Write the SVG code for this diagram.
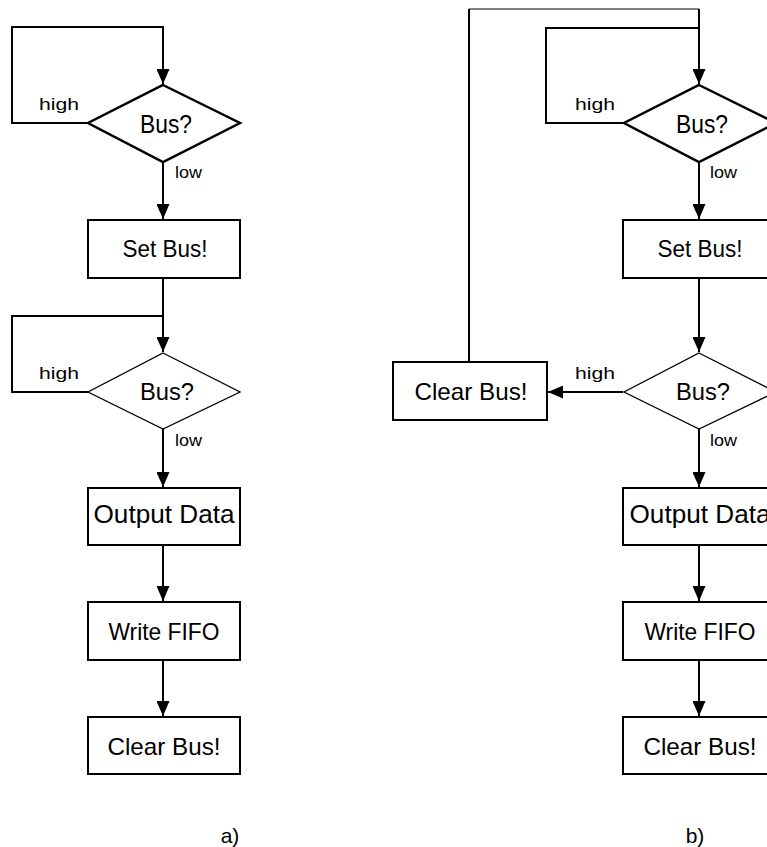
<svg xmlns="http://www.w3.org/2000/svg" width="767" height="847" viewBox="0 0 767 847">
<style>
.box{fill:#fff;stroke:#000;stroke-width:2}
.dia{fill:#fff;stroke:#000;stroke-width:2.5}
.dia2{fill:#fff;stroke:#000;stroke-width:1.3}
.con{fill:none;stroke:#000;stroke-width:2}
.thin{fill:none;stroke:#000;stroke-width:1.2}
text{font-family:"Liberation Sans",Arial,sans-serif;fill:#000}
.t{font-size:24px;text-anchor:middle}
.lab{font-size:16px}
.cap{font-size:21px;text-anchor:middle}
</style>
<defs>
<marker id="ah" markerUnits="userSpaceOnUse" markerWidth="15" markerHeight="13" refX="15" refY="6.5" orient="auto">
<path d="M0,0 L15,6.5 L0,13 z" fill="#000"/>
</marker>
</defs>
<g id="connectors">
<path class="con" d="M88,123 H12 V27 H163 V84" marker-end="url(#ah)"/>
<path class="con" d="M163,162 V219" marker-end="url(#ah)"/>
<path class="con" d="M163,278 V352" marker-end="url(#ah)"/>
<path class="con" d="M88,392 H12 V316 H163"/>
<path class="con" d="M163,429 V487" marker-end="url(#ah)"/>
<path class="con" d="M163,545 V601" marker-end="url(#ah)"/>
<path class="con" d="M163,660 V716" marker-end="url(#ah)"/>
<path class="con" d="M469,362 V9"/>
<path class="thin" d="M469,9 H699"/>
<path class="con" d="M699,9 V84" marker-end="url(#ah)"/>
<path class="con" d="M623,123 H546 V28 H699"/>
<path class="con" d="M699,162 V219" marker-end="url(#ah)"/>
<path class="con" d="M699,278 V352" marker-end="url(#ah)"/>
<path class="con" d="M623,392 H548" marker-end="url(#ah)"/>
<path class="con" d="M699,429 V487" marker-end="url(#ah)"/>
<path class="con" d="M699,545 V601" marker-end="url(#ah)"/>
<path class="con" d="M699,660 V716" marker-end="url(#ah)"/>
</g>
<g id="a-bus1">
<polygon class="dia" points="163,85 240,123 163,162 88,123"/>
<text class="t" x="166" y="133" textLength="52" lengthAdjust="spacingAndGlyphs" style="font-size:25px">Bus?</text>
</g>
<g id="a-setbus">
<rect class="box" x="88" y="220" width="152" height="58"/>
<text class="t" x="165" y="257" textLength="85" lengthAdjust="spacingAndGlyphs">Set Bus!</text>
</g>
<g id="a-bus2">
<polygon class="dia2" points="163,353 240,392 163,429 88,392"/>
<text class="t" x="167" y="400" textLength="54" lengthAdjust="spacingAndGlyphs">Bus?</text>
</g>
<g id="a-output">
<rect class="box" x="88" y="488" width="152" height="57"/>
<text class="t" x="164" y="523" textLength="141" lengthAdjust="spacingAndGlyphs" style="font-size:26px">Output Data</text>
</g>
<g id="a-write">
<rect class="box" x="88" y="602" width="152" height="58"/>
<text class="t" x="164" y="640" textLength="111" lengthAdjust="spacingAndGlyphs">Write FIFO</text>
</g>
<g id="a-clear">
<rect class="box" x="88" y="717" width="152" height="57"/>
<text class="t" x="164" y="755" textLength="113" lengthAdjust="spacingAndGlyphs">Clear Bus!</text>
</g>
<g id="a-labels">
<text class="lab" x="39" y="110" textLength="40" lengthAdjust="spacingAndGlyphs">high</text>
<text class="lab" x="175" y="178" textLength="27" lengthAdjust="spacingAndGlyphs">low</text>
<text class="lab" x="39" y="379" textLength="40" lengthAdjust="spacingAndGlyphs">high</text>
<text class="lab" x="175" y="446" textLength="27" lengthAdjust="spacingAndGlyphs">low</text>
<text class="cap" x="230" y="843">a)</text>
</g>
<g id="b-bus1">
<polygon class="dia" points="699,85 776,123 699,162 624,123"/>
<text class="t" x="702" y="133" textLength="52" lengthAdjust="spacingAndGlyphs" style="font-size:25px">Bus?</text>
</g>
<g id="b-setbus">
<rect class="box" x="623" y="220" width="152" height="58"/>
<text class="t" x="700" y="257" textLength="85" lengthAdjust="spacingAndGlyphs">Set Bus!</text>
</g>
<g id="b-bus2">
<polygon class="dia2" points="699,353 776,392 699,429 624,392"/>
<text class="t" x="703" y="400" textLength="54" lengthAdjust="spacingAndGlyphs">Bus?</text>
</g>
<g id="b-clearside">
<rect class="box" x="393" y="362" width="154" height="58"/>
<text class="t" x="471" y="400" textLength="113" lengthAdjust="spacingAndGlyphs">Clear Bus!</text>
</g>
<g id="b-output">
<rect class="box" x="623" y="488" width="152" height="57"/>
<text class="t" x="700" y="523" textLength="141" lengthAdjust="spacingAndGlyphs" style="font-size:26px">Output Data</text>
</g>
<g id="b-write">
<rect class="box" x="623" y="602" width="152" height="58"/>
<text class="t" x="700" y="640" textLength="111" lengthAdjust="spacingAndGlyphs">Write FIFO</text>
</g>
<g id="b-clear">
<rect class="box" x="623" y="717" width="152" height="57"/>
<text class="t" x="700" y="755" textLength="113" lengthAdjust="spacingAndGlyphs">Clear Bus!</text>
</g>
<g id="b-labels">
<text class="lab" x="575" y="110" textLength="40" lengthAdjust="spacingAndGlyphs">high</text>
<text class="lab" x="710" y="178" textLength="27" lengthAdjust="spacingAndGlyphs">low</text>
<text class="lab" x="575" y="379" textLength="40" lengthAdjust="spacingAndGlyphs">high</text>
<text class="lab" x="710" y="446" textLength="27" lengthAdjust="spacingAndGlyphs">low</text>
<text class="cap" x="695" y="843">b)</text>
</g>
</svg>
